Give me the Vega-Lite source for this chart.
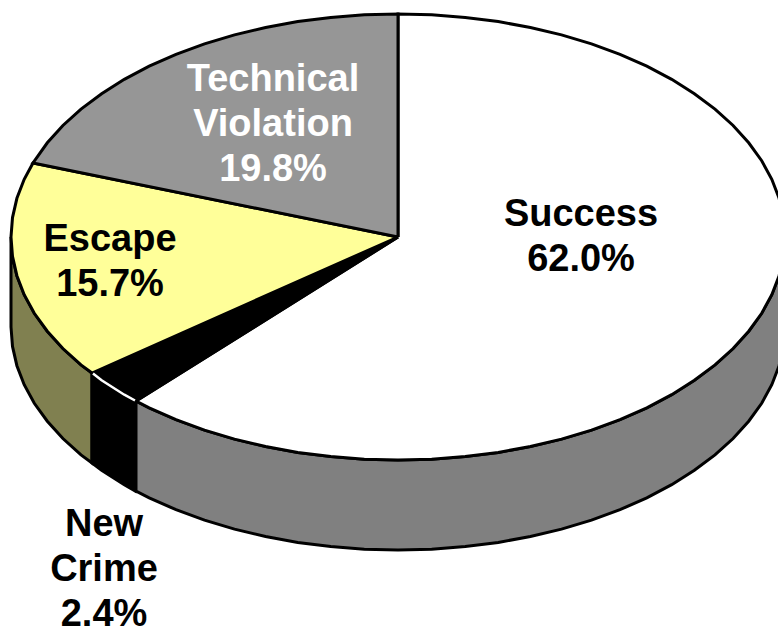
{"$schema":"https://vega.github.io/schema/vega-lite/v6.json","width":778,"height":626,"padding":0,"autosize":"none","background":"white","view":{"stroke":null},
"datasets":{
"shape":[
{"p":"Success side","s":1,"x":785,"y":237},{"p":"Success side","s":2,"x":783.5,"y":256.4},{"p":"Success side","s":3,"x":779.1,"y":275.7},{"p":"Success side","s":4,"x":771.8,"y":294.7},{"p":"Success side","s":5,"x":761.7,"y":313.3},{"p":"Success side","s":6,"x":748.7,"y":331.2},{"p":"Success side","s":7,"x":733.1,"y":348.5},{"p":"Success side","s":8,"x":715,"y":364.9},{"p":"Success side","s":9,"x":694.4,"y":380.3},{"p":"Success side","s":10,"x":671.7,"y":394.7},{"p":"Success side","s":11,"x":646.8,"y":407.8},{"p":"Success side","s":12,"x":620,"y":419.7},{"p":"Success side","s":13,"x":591.5,"y":430.1},{"p":"Success side","s":14,"x":561.5,"y":439.1},{"p":"Success side","s":15,"x":530.4,"y":446.5},{"p":"Success side","s":16,"x":498.2,"y":452.4},{"p":"Success side","s":17,"x":465.2,"y":456.6},{"p":"Success side","s":18,"x":431.7,"y":459.2},{"p":"Success side","s":19,"x":398,"y":460},{"p":"Success side","s":20,"x":364.3,"y":459.2},{"p":"Success side","s":21,"x":330.8,"y":456.6},{"p":"Success side","s":22,"x":297.8,"y":452.4},{"p":"Success side","s":23,"x":265.6,"y":446.5},{"p":"Success side","s":24,"x":234.5,"y":439.1},{"p":"Success side","s":25,"x":204.5,"y":430.1},{"p":"Success side","s":26,"x":176,"y":419.7},{"p":"Success side","s":27,"x":149.2,"y":407.8},{"p":"Success side","s":28,"x":136,"y":401},
{"p":"Success side","s":29,"x":136,"y":491},{"p":"Success side","s":30,"x":149.2,"y":497.8},{"p":"Success side","s":31,"x":176,"y":509.7},{"p":"Success side","s":32,"x":204.5,"y":520.1},{"p":"Success side","s":33,"x":234.5,"y":529.1},{"p":"Success side","s":34,"x":265.6,"y":536.5},{"p":"Success side","s":35,"x":297.8,"y":542.4},{"p":"Success side","s":36,"x":330.8,"y":546.6},{"p":"Success side","s":37,"x":364.3,"y":549.2},{"p":"Success side","s":38,"x":398,"y":550},{"p":"Success side","s":39,"x":431.7,"y":549.2},{"p":"Success side","s":40,"x":465.2,"y":546.6},{"p":"Success side","s":41,"x":498.2,"y":542.4},{"p":"Success side","s":42,"x":530.4,"y":536.5},{"p":"Success side","s":43,"x":561.5,"y":529.1},{"p":"Success side","s":44,"x":591.5,"y":520.1},{"p":"Success side","s":45,"x":620,"y":509.7},{"p":"Success side","s":46,"x":646.8,"y":497.8},{"p":"Success side","s":47,"x":671.7,"y":484.7},{"p":"Success side","s":48,"x":694.4,"y":470.3},{"p":"Success side","s":49,"x":715,"y":454.9},{"p":"Success side","s":50,"x":733.1,"y":438.5},{"p":"Success side","s":51,"x":748.7,"y":421.2},{"p":"Success side","s":52,"x":761.7,"y":403.3},{"p":"Success side","s":53,"x":771.8,"y":384.7},{"p":"Success side","s":54,"x":779.1,"y":365.7},{"p":"Success side","s":55,"x":783.5,"y":346.4},{"p":"Success side","s":56,"x":785,"y":327},{"p":"Success side","s":57,"x":785,"y":237},
{"p":"Escape side","s":1,"x":92,"y":373},{"p":"Escape side","s":2,"x":81,"y":364.9},{"p":"Escape side","s":3,"x":62.9,"y":348.5},{"p":"Escape side","s":4,"x":47.3,"y":331.2},{"p":"Escape side","s":5,"x":34.3,"y":313.3},{"p":"Escape side","s":6,"x":24.2,"y":294.7},{"p":"Escape side","s":7,"x":16.9,"y":275.7},{"p":"Escape side","s":8,"x":12.5,"y":256.4},{"p":"Escape side","s":9,"x":11,"y":237},{"p":"Escape side","s":10,"x":11,"y":327},{"p":"Escape side","s":11,"x":12.5,"y":346.4},{"p":"Escape side","s":12,"x":16.9,"y":365.7},{"p":"Escape side","s":13,"x":24.2,"y":384.7},{"p":"Escape side","s":14,"x":34.3,"y":403.3},{"p":"Escape side","s":15,"x":47.3,"y":421.2},{"p":"Escape side","s":16,"x":62.9,"y":438.5},{"p":"Escape side","s":17,"x":81,"y":454.9},{"p":"Escape side","s":18,"x":92,"y":463},{"p":"Escape side","s":19,"x":92,"y":373},
{"p":"New Crime side","s":1,"x":135,"y":401},{"p":"New Crime side","s":2,"x":124.3,"y":394.7},{"p":"New Crime side","s":3,"x":101.6,"y":380.3},{"p":"New Crime side","s":4,"x":92,"y":373},{"p":"New Crime side","s":5,"x":92,"y":463},{"p":"New Crime side","s":6,"x":101.6,"y":470.3},{"p":"New Crime side","s":7,"x":124.3,"y":484.7},{"p":"New Crime side","s":8,"x":135,"y":491},{"p":"New Crime side","s":9,"x":135,"y":401},
{"p":"Success","s":1,"x":398,"y":237},{"p":"Success","s":2,"x":398,"y":14},{"p":"Success","s":3,"x":431.7,"y":14.8},{"p":"Success","s":4,"x":465.2,"y":17.4},{"p":"Success","s":5,"x":498.2,"y":21.6},{"p":"Success","s":6,"x":530.4,"y":27.5},{"p":"Success","s":7,"x":561.5,"y":34.9},{"p":"Success","s":8,"x":591.5,"y":43.9},{"p":"Success","s":9,"x":620,"y":54.3},{"p":"Success","s":10,"x":646.8,"y":66.2},{"p":"Success","s":11,"x":671.7,"y":79.3},{"p":"Success","s":12,"x":694.4,"y":93.7},{"p":"Success","s":13,"x":715,"y":109.1},{"p":"Success","s":14,"x":733.1,"y":125.5},{"p":"Success","s":15,"x":748.7,"y":142.8},{"p":"Success","s":16,"x":761.7,"y":160.7},{"p":"Success","s":17,"x":771.8,"y":179.3},{"p":"Success","s":18,"x":779.1,"y":198.3},{"p":"Success","s":19,"x":783.5,"y":217.6},{"p":"Success","s":20,"x":785,"y":237},{"p":"Success","s":21,"x":783.5,"y":256.4},{"p":"Success","s":22,"x":779.1,"y":275.7},{"p":"Success","s":23,"x":771.8,"y":294.7},{"p":"Success","s":24,"x":761.7,"y":313.3},{"p":"Success","s":25,"x":748.7,"y":331.2},{"p":"Success","s":26,"x":733.1,"y":348.5},{"p":"Success","s":27,"x":715,"y":364.9},{"p":"Success","s":28,"x":694.4,"y":380.3},{"p":"Success","s":29,"x":671.7,"y":394.7},{"p":"Success","s":30,"x":646.8,"y":407.8},{"p":"Success","s":31,"x":620,"y":419.7},{"p":"Success","s":32,"x":591.5,"y":430.1},{"p":"Success","s":33,"x":561.5,"y":439.1},{"p":"Success","s":34,"x":530.4,"y":446.5},{"p":"Success","s":35,"x":498.2,"y":452.4},{"p":"Success","s":36,"x":465.2,"y":456.6},{"p":"Success","s":37,"x":431.7,"y":459.2},{"p":"Success","s":38,"x":398,"y":460},{"p":"Success","s":39,"x":364.3,"y":459.2},{"p":"Success","s":40,"x":330.8,"y":456.6},{"p":"Success","s":41,"x":297.8,"y":452.4},{"p":"Success","s":42,"x":265.6,"y":446.5},{"p":"Success","s":43,"x":234.5,"y":439.1},{"p":"Success","s":44,"x":204.5,"y":430.1},{"p":"Success","s":45,"x":176,"y":419.7},{"p":"Success","s":46,"x":149.2,"y":407.8},{"p":"Success","s":47,"x":136,"y":401},{"p":"Success","s":48,"x":398,"y":237},
{"p":"New Crime","s":1,"x":398,"y":237},{"p":"New Crime","s":2,"x":136,"y":401},{"p":"New Crime","s":3,"x":124.3,"y":394.7},{"p":"New Crime","s":4,"x":101.6,"y":380.3},{"p":"New Crime","s":5,"x":92,"y":373},{"p":"New Crime","s":6,"x":398,"y":237},
{"p":"Escape","s":1,"x":398,"y":237},{"p":"Escape","s":2,"x":92,"y":373},{"p":"Escape","s":3,"x":81,"y":364.9},{"p":"Escape","s":4,"x":62.9,"y":348.5},{"p":"Escape","s":5,"x":47.3,"y":331.2},{"p":"Escape","s":6,"x":34.3,"y":313.3},{"p":"Escape","s":7,"x":24.2,"y":294.7},{"p":"Escape","s":8,"x":16.9,"y":275.7},{"p":"Escape","s":9,"x":12.5,"y":256.4},{"p":"Escape","s":10,"x":11,"y":237},{"p":"Escape","s":11,"x":12.5,"y":217.6},{"p":"Escape","s":12,"x":16.9,"y":198.3},{"p":"Escape","s":13,"x":24.2,"y":179.3},{"p":"Escape","s":14,"x":33,"y":163},{"p":"Escape","s":15,"x":398,"y":237},
{"p":"Technical Violation","s":1,"x":398,"y":237},{"p":"Technical Violation","s":2,"x":33,"y":163},{"p":"Technical Violation","s":3,"x":47.3,"y":142.8},{"p":"Technical Violation","s":4,"x":62.9,"y":125.5},{"p":"Technical Violation","s":5,"x":81,"y":109.1},{"p":"Technical Violation","s":6,"x":101.6,"y":93.7},{"p":"Technical Violation","s":7,"x":124.3,"y":79.3},{"p":"Technical Violation","s":8,"x":149.2,"y":66.2},{"p":"Technical Violation","s":9,"x":176,"y":54.3},{"p":"Technical Violation","s":10,"x":204.5,"y":43.9},{"p":"Technical Violation","s":11,"x":234.5,"y":34.9},{"p":"Technical Violation","s":12,"x":265.6,"y":27.5},{"p":"Technical Violation","s":13,"x":297.8,"y":21.6},{"p":"Technical Violation","s":14,"x":330.8,"y":17.4},{"p":"Technical Violation","s":15,"x":364.3,"y":14.8},{"p":"Technical Violation","s":16,"x":398,"y":14},{"p":"Technical Violation","s":17,"x":398,"y":237}
],
"edge":[{"s":1,"x":93,"y":373.5},{"s":2,"x":101.6,"y":380.3},{"s":3,"x":124.3,"y":394.7},{"s":4,"x":135,"y":400.5}],
"labels":[
{"slice":"Success","label":"Success\n62.0%","x":581,"y":215},
{"slice":"Technical Violation","label":"Technical\nViolation\n19.8%","x":273,"y":80},
{"slice":"Escape","label":"Escape\n15.7%","x":110,"y":240},
{"slice":"New Crime","label":"New\nCrime\n2.4%","x":104,"y":525}
]},
"layer":[
{"data":{"name":"shape"},"mark":{"type":"line","stroke":"black","strokeWidth":3,"clip":true,"strokeJoin":"miter"},
"encoding":{
"x":{"field":"x","type":"quantitative","scale":{"domain":[0,778],"nice":false,"zero":false},"axis":null},
"y":{"field":"y","type":"quantitative","scale":{"domain":[626,0],"nice":false,"zero":false},"axis":null},
"order":{"field":"s","type":"quantitative"},
"detail":{"field":"p","type":"nominal"},
"fill":{"field":"p","type":"nominal","legend":null,"scale":{"domain":["Success side","Escape side","New Crime side","Success","New Crime","Escape","Technical Violation"],"range":["#808080","#808050","#000000","#ffffff","#000000","#ffff99","#969696"]}}
}},
{"data":{"name":"edge"},"mark":{"type":"line","stroke":"white","strokeWidth":2.5},
"encoding":{"x":{"field":"x","type":"quantitative","axis":null},"y":{"field":"y","type":"quantitative","axis":null},"order":{"field":"s","type":"quantitative"}}},
{"data":{"name":"labels"},"mark":{"type":"text","font":"Liberation Sans","fontWeight":"bold","fontSize":38,"lineBreak":"\n","lineHeight":45,"align":"center","baseline":"middle"},
"encoding":{"x":{"field":"x","type":"quantitative","axis":null},"y":{"field":"y","type":"quantitative","axis":null},"text":{"field":"label","type":"nominal"},
"color":{"field":"slice","type":"nominal","legend":null,"scale":{"domain":["Success","Technical Violation","Escape","New Crime"],"range":["#000000","#ffffff","#000000","#000000"]}}}}
]}
